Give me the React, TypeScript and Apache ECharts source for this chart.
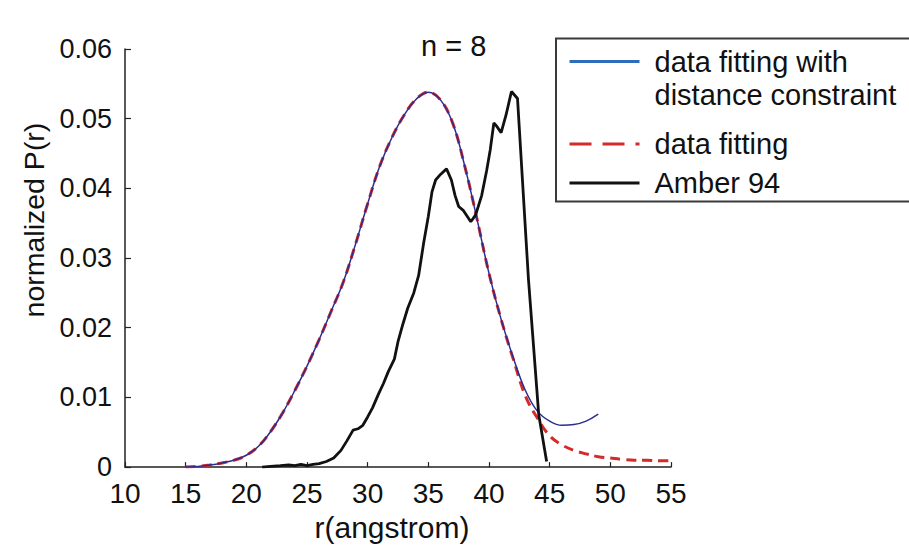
import React, { useEffect, useRef } from "react";
import * as echarts from "echarts";

// ---- data ----
const titleText = "n = 8";
const xTickMin = 10;
const xTickMax = 55;
const xTickStep = 5;
const yTickMin = 0;
const yTickMax = 0.06;
const yTickStep = 0.01;

const seriesNames = ["data fitting with distance constraint", "data fitting", "Amber 94"];

// data fitting with distance constraint (blue)
const constrainedR = [15, 16, 17, 18, 19, 20, 21, 22, 23, 24, 25, 26, 27, 28, 29, 30, 31, 32, 33, 34, 35, 36, 37, 38, 39, 40, 41, 42, 43, 44, 45, 46, 47, 48, 49];
const constrainedP = [0.0, 0.0001, 0.0003, 0.0006, 0.001, 0.0017, 0.003, 0.0051, 0.0078, 0.011, 0.0145, 0.0183, 0.0224, 0.0266, 0.032, 0.0378, 0.0432, 0.0473, 0.0505, 0.0528, 0.0538, 0.0527, 0.0494, 0.0432, 0.0357, 0.0278, 0.0212, 0.0157, 0.011, 0.008, 0.0066, 0.006, 0.0061, 0.0066, 0.0076];

// data fitting (red dashed)
const fitR = [15, 16, 17, 18, 19, 20, 21, 22, 23, 24, 25, 26, 27, 28, 29, 30, 31, 32, 33, 34, 35, 36, 37, 38, 39, 40, 41, 42, 43, 44, 45, 46, 47, 48, 49, 50, 51, 52, 53, 54, 55];
const fitP = [0.0, 0.0001, 0.0003, 0.0006, 0.001, 0.0017, 0.003, 0.0051, 0.0078, 0.011, 0.0145, 0.0183, 0.0224, 0.0266, 0.032, 0.0378, 0.0432, 0.0473, 0.0505, 0.0528, 0.0538, 0.0527, 0.0494, 0.0432, 0.0357, 0.0278, 0.0212, 0.0155, 0.0102, 0.007, 0.0045, 0.0032, 0.0024, 0.0019, 0.0015, 0.0013, 0.0011, 0.001, 0.001, 0.0009, 0.0009];

// Amber 94 (black)
const amberR = [21.3, 22.0, 22.8, 23.5, 24.0, 24.5, 25.0, 25.5, 26.0, 26.6, 27.2, 27.8, 28.3, 28.8, 29.2, 29.6, 30.0, 30.4, 30.9, 31.3, 31.7, 32.2, 32.5, 32.9, 33.3, 33.8, 34.2, 34.6, 35.0, 35.3, 35.6, 36.0, 36.5, 36.9, 37.2, 37.5, 37.9, 38.2, 38.5, 38.9, 39.4, 39.8, 40.1, 40.4, 40.6, 41.0, 41.4, 41.85, 42.35, 43.25, 44.1, 44.75];
const amberP = [0.0, 0.0001, 0.0002, 0.0003, 0.0002, 0.0004, 0.0002, 0.0004, 0.0005, 0.0008, 0.0013, 0.0024, 0.0038, 0.0053, 0.0055, 0.006, 0.0072, 0.0085, 0.0105, 0.012, 0.0137, 0.0155, 0.018, 0.0205, 0.0228, 0.025, 0.0275, 0.032, 0.036, 0.0395, 0.0412, 0.042, 0.0428, 0.0412, 0.039, 0.0374, 0.0368, 0.036, 0.0352, 0.0362, 0.039, 0.0425, 0.0455, 0.0494, 0.049, 0.048, 0.0505, 0.0539, 0.0529, 0.027, 0.0075, 0.0008];

const xName = "r(angstrom)";
const yName = "normalized P(r)";

const FONT = "'Liberation Sans', Arial, Helvetica, sans-serif";

function pairs(xs: number[], ys: number[]) {
  return xs.map((x, i) => [x, ys[i]]);
}

export default function App() {
  const ref = useRef<HTMLDivElement>(null);

  useEffect(() => {
    document.body.style.margin = "0";
    const chart = echarts.init(ref.current!, null, { renderer: "svg" });
    const hiddenSymbol = { opacity: 0, borderWidth: 0 };
    const legendRichLine = { fontFamily: FONT, fontSize: 29, lineHeight: 33, color: "#111", padding: [0, 0, 0, 10] };
    chart.setOption({
      animation: false,
      backgroundColor: "#ffffff",
      title: {
        text: titleText,
        left: 421,
        top: 31,
        padding: 0,
        textStyle: { fontFamily: FONT, fontSize: 29, fontWeight: "normal", color: "#111" },
      },
      grid: { left: 125, right: 238, top: 49, bottom: 70.5, containLabel: false },
      xAxis: {
        type: "value",
        min: xTickMin,
        max: xTickMax,
        interval: xTickStep,
        name: xName,
        nameLocation: "middle",
        nameGap: 30,
        nameTextStyle: { fontFamily: FONT, fontSize: 30, color: "#111", padding: [0, 12, 0, 0] },
        axisLine: { lineStyle: { color: "#222", width: 1.5 } },
        axisTick: { inside: true, length: 5, lineStyle: { color: "#222", width: 1.2 } },
        axisLabel: { fontFamily: FONT, fontSize: 28, color: "#111", margin: 12 },
        splitLine: { show: false },
      },
      yAxis: {
        type: "value",
        min: yTickMin,
        max: yTickMax,
        interval: yTickStep,
        name: yName,
        nameLocation: "middle",
        nameGap: 77,
        nameTextStyle: { fontFamily: FONT, fontSize: 28.5, color: "#111", padding: [0, 0, 0, 76] },
        axisLine: { lineStyle: { color: "#222", width: 1.5 } },
        axisTick: { inside: true, length: 6, lineStyle: { color: "#222", width: 1.2 } },
        axisLabel: {
          fontFamily: FONT,
          fontSize: 27,
          color: "#111",
          margin: 13,
          formatter: (v: number) => (v === 0 ? "0" : v.toFixed(2)),
        },
        splitLine: { show: false },
      },
      graphic: [
        {
          type: "rect",
          z: 1,
          shape: { x: 556, y: 38.5, width: 360, height: 163 },
          style: { fill: "#ffffff", stroke: "#3a3a3a", lineWidth: 2 },
        },
      ],
      legend: [
        {
          orient: "vertical",
          left: 568,
          top: 12,
          padding: 0,
          itemWidth: 70,
          itemHeight: 14,
          z: 5,
          data: [{ name: seriesNames[0], itemStyle: hiddenSymbol, lineStyle: { color: "#2f6db8", width: 3 } }],
          formatter: () => "{sp| }\n{a|data fitting with}\n{a|distance constraint}",
          textStyle: {
            fontFamily: FONT,
            fontSize: 29,
            lineHeight: 33,
            color: "#111",
            rich: {
              sp: { fontSize: 29, lineHeight: 33, height: 33 },
              a: legendRichLine,
            },
          },
        },
        {
          orient: "vertical",
          left: 568,
          top: 127.5,
          padding: 0,
          itemGap: 6,
          itemWidth: 70,
          itemHeight: 14,
          z: 5,
          data: [
            { name: seriesNames[1], itemStyle: hiddenSymbol, lineStyle: { color: "#d42a2a", width: 3, type: [22, 11] } },
            { name: seriesNames[2], itemStyle: hiddenSymbol, lineStyle: { color: "#111111", width: 3 } },
          ],
          textStyle: { fontFamily: FONT, fontSize: 29, lineHeight: 33, color: "#111", padding: [0, 0, 0, 10] },
        },
      ],
      series: [
        {
          type: "line",
          name: seriesNames[1],
          data: pairs(fitR, fitP),
          showSymbol: false,
          symbol: "none",
          smooth: 0.4,
          color: "#d42a2a",
          lineStyle: { color: "#d42a2a", width: 3, type: [10, 6] },
          z: 2,
        },
        {
          type: "line",
          name: seriesNames[0],
          data: pairs(constrainedR, constrainedP),
          showSymbol: false,
          symbol: "none",
          smooth: 0.4,
          color: "#2b2e8e",
          lineStyle: { color: "#2b2e8e", width: 1.5 },
          z: 3,
        },
        {
          type: "line",
          name: seriesNames[2],
          data: pairs(amberR, amberP),
          showSymbol: false,
          symbol: "none",
          color: "#111111",
          lineStyle: { color: "#111111", width: 2.8 },
          z: 4,
        },
      ],
    });
    return () => chart.dispose();
  }, []);

  return <div ref={ref} style={{ width: 909, height: 547, background: "#fff" }} />;
}
